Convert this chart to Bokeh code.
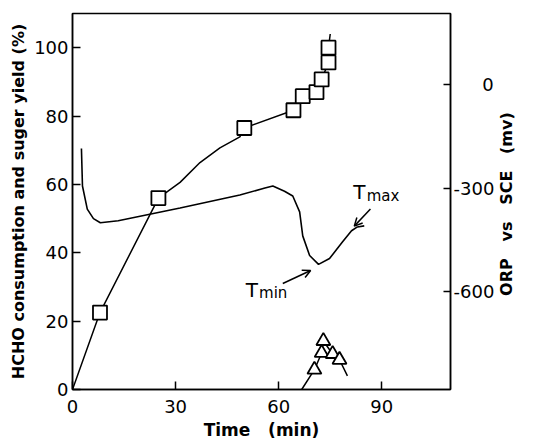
import math
from bokeh.plotting import figure
from bokeh.layouts import row
from bokeh.models import Range1d, LinearAxis, FixedTicker, Arrow, OpenHead
from bokeh.core.properties import value
from bokeh.embed import file_html
from bokeh.resources import INLINE

# HCHO consumption (%) - fitted curve and measured points
hcho_curve_t = [0, 8, 25, 31.3, 37.1, 42.9, 48.7, 50, 64.3, 67, 71, 72.5, 74.5, 74.5, 75]
hcho_curve_y = [0, 22.5, 56, 60.6, 66.4, 70.7, 73.9, 76.5, 81.7, 85.8, 87, 90.7, 95.7, 100, 104]
hcho_t = [8, 25, 50, 64.3, 67, 71, 72.5, 74.5, 74.5]
hcho_y = [22.5, 56, 76.5, 81.7, 85.8, 87, 90.7, 95.7, 100]

# Sugar yield (%)
sugar_line_t = [66.7, 70.4, 72.5, 73, 75.7, 77.7, 80]
sugar_line_y = [0, 5.8, 10.7, 14.2, 10.4, 8.7, 4]
sugar_t = [70.4, 72.5, 73, 75.7, 77.7]
sugar_y = [5.8, 10.7, 14.2, 10.4, 8.7]

# ORP vs SCE (mV)
orp_t = [2.6, 2.9, 4.3, 6.1, 8.1, 13.3, 31.3, 48.7, 56, 58.3, 61.7, 64.1, 66.1, 67, 69,
         71.6, 74.8, 78.6, 81.2, 82.9, 84.9]
orp_mv = [-185, -294, -361, -389, -401, -395, -358, -320, -300, -294, -309, -323, -369, -439, -496,
          -522, -505, -456, -424, -413, -410]

x_ticks = [0, 30, 60, 90]
y_ticks = [0, 20, 40, 60, 80, 100]
orp_ticks = [0, -300, -600]
orp_tick_labels = {0: "\u2007\u2007\u20080", -300: "-300", -600: "-600"}

FONT = "DejaVu Sans"
NB = "\u00a0"
right_title = "ORP" + NB * 3 + "vs" + NB * 3 + "SCE" + NB * 3 + "(mv)"

p = figure(width=497, height=442, x_range=Range1d(0, 110), y_range=Range1d(0, 110),
           output_backend="svg", toolbar_location=None,
           min_border_left=72, min_border_right=45, min_border_top=13, min_border_bottom=50)
p.extra_y_ranges = {"orp": Range1d(-886, 208)}
p.grid.visible = False
p.outline_line_color = "black"
p.outline_line_width = 1.5
p.background_fill_color = "white"
p.border_fill_color = "white"

for ax in (p.xaxis[0], p.yaxis[0]):
    ax.axis_line_color = "black"
    ax.axis_line_width = 1.5
    ax.major_tick_in = 8
    ax.major_tick_out = 0
    ax.minor_tick_line_color = None
    ax.major_tick_line_color = "black"
    ax.major_tick_line_width = 1.5
    ax.major_label_text_font = FONT
    ax.major_label_text_font_size = "18px"
    ax.major_label_text_color = "black"
    ax.axis_label_text_font = FONT
    ax.axis_label_text_font_style = "bold"
    ax.axis_label_text_color = "black"

p.xaxis[0].ticker = FixedTicker(ticks=x_ticks)
p.yaxis[0].ticker = FixedTicker(ticks=y_ticks)
p.xaxis[0].axis_label = "Time" + NB * 3 + "(min)"
p.xaxis[0].axis_label_text_font_size = "17px"
p.xaxis[0].major_label_standoff = 10
p.xaxis[0].axis_label_standoff = 4
p.yaxis[0].axis_label = "HCHO consumption and suger yield (%)"
p.yaxis[0].axis_label_text_font_size = "16px"
p.yaxis[0].major_label_standoff = 4
p.yaxis[0].axis_label_standoff = 3

right = LinearAxis(y_range_name="orp", ticker=FixedTicker(ticks=orp_ticks),
                   major_label_overrides=orp_tick_labels)
right.axis_line_color = "black"
right.axis_line_width = 1.5
right.major_tick_in = 7
right.major_tick_out = 0
right.minor_tick_line_color = None
right.major_tick_line_width = 1.5
right.major_label_text_font = FONT
right.major_label_text_font_size = "18px"
right.major_label_text_color = "black"
right.major_label_standoff = 3
p.add_layout(right, "right")

# ORP curve
p.line(orp_t, orp_mv, y_range_name="orp", line_color="black", line_width=1.6)

# HCHO curve + squares
p.line(hcho_curve_t, hcho_curve_y, line_color="black", line_width=1.5)
p.scatter(hcho_t, hcho_y, marker="square", size=14, fill_color="white",
          line_color="black", line_width=1.8)

# Sugar yield triangles
p.line(sugar_line_t, sugar_line_y, line_color="black", line_width=1.5)
p.scatter(sugar_t, sugar_y, marker="triangle", size=14, fill_color="white",
          line_color="black", line_width=1.8)

# Annotations: T_min / T_max
p.text(x=[52.2], y=[29.2], text=["T"], text_font=value(FONT), text_font_size="20px",
       text_align="center", text_baseline="middle", text_color="black")
p.text(x=[54.3], y=[28.3], text=["min"], text_font=value(FONT), text_font_size="15px",
       text_align="left", text_baseline="middle", text_color="black")
p.text(x=[83.5], y=[57.8], text=["T"], text_font=value(FONT), text_font_size="20px",
       text_align="center", text_baseline="middle", text_color="black")
p.text(x=[85.6], y=[56.6], text=["max"], text_font=value(FONT), text_font_size="15px",
       text_align="left", text_baseline="middle", text_color="black")
p.add_layout(Arrow(end=OpenHead(size=8, line_width=1.5, line_color="black"),
                   x_start=61.2, y_start=31, x_end=69.3, y_end=34.8,
                   line_width=1.5, line_color="black"))
p.add_layout(Arrow(end=OpenHead(size=8, line_width=1.5, line_color="black"),
                   x_start=86.7, y_start=52.8, x_end=82, y_end=47.8,
                   line_width=1.5, line_color="black"))

# Narrow side panel holding the right-hand axis title (reads bottom to top)
p2 = figure(width=36, height=442, x_range=Range1d(0, 36), y_range=Range1d(0, 442),
            output_backend="svg", toolbar_location=None,
            min_border_left=0, min_border_right=0, min_border_top=0, min_border_bottom=0)
p2.axis.visible = False
p2.grid.visible = False
p2.outline_line_color = None
p2.background_fill_color = "white"
p2.border_fill_color = "white"
p2.text(x=[9], y=[218], text=[right_title], angle=math.pi / 2, text_font=value(FONT),
        text_font_size="16px", text_font_style="bold", text_align="center",
        text_baseline="middle", text_color="black")

layout = row(p, p2, spacing=0)
open("out.html", "w").write(file_html(layout, INLINE))
